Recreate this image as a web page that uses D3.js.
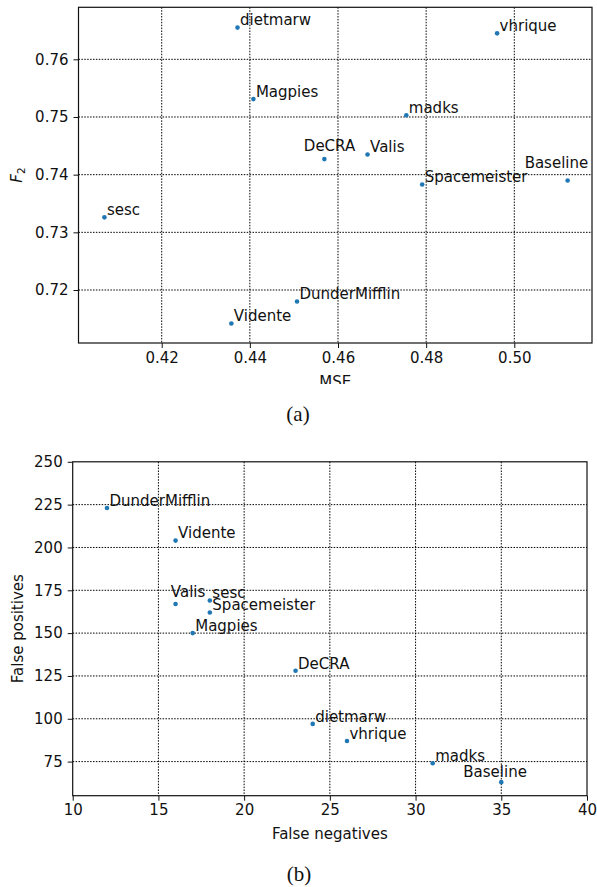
<!DOCTYPE html>
<html><head><meta charset="utf-8">
<script src="https://cdn.jsdelivr.net/npm/d3@7"></script>
<style>body{margin:0;background:#fff} svg{display:block}</style>
</head><body><svg id="c" width="597" height="887"></svg>
<script>
// ---- Panel (a) data ----
const teamsA = ["dietmarw","Magpies","vhrique","madks","DeCRA","Valis","Spacemeister","Baseline","sesc","Vidente","DunderMifflin"];
const mseA   = [0.4372,0.4408,0.4961,0.4755,0.4569,0.4667,0.4791,0.5121,0.4070,0.4358,0.4507];
const f2A    = [0.7655,0.7531,0.7645,0.7503,0.7427,0.7435,0.7383,0.7390,0.7326,0.7142,0.7180];
const xTicksA = [0.42,0.44,0.46,0.48,0.50];
const yTicksA = [0.72,0.73,0.74,0.75,0.76];

// ---- Panel (b) data ----
const teamsB = ["DunderMifflin","Vidente","Valis","sesc","Spacemeister","Magpies","DeCRA","dietmarw","vhrique","madks","Baseline"];
const fnB    = [12,16,16,18,18,17,23,24,26,31,35];
const fpB    = [223,204,167,169,162,150,128,97,87,74,63];
const xTicksB = [10,15,20,25,30,35,40];
const yTicksB = [75,100,125,150,175,200,225,250];

// label placement (pixel offsets from the point), default otherwise
const labelOffA = {DeCRA:[-20.5,-8], Baseline:[-43,-12]};
const labelOffB = {Valis:[-4.7,-7], Baseline:[-38,-5.6]};
const defOff = [2.5,-2.3];

const svg = d3.select("#c");
const FONT = "DejaVu Sans, sans-serif";
const INK = "#111";

svg.append("defs").append("clipPath").attr("id","clipA")
  .append("rect").attr("x",0).attr("y",0).attr("width",597).attr("height",384);

function panel(o){
  const x = d3.scaleLinear().domain(o.xDom).range([o.left,o.right]);
  const y = d3.scaleLinear().domain(o.yDom).range([o.bottom,o.top]);
  const g = svg.append("g");
  // grid
  g.append("g").selectAll("line").data(o.xTicks.filter(v=>v>o.xDom[0]&&v<o.xDom[1])).join("line")
    .attr("x1",d=>x(d)).attr("x2",d=>x(d)).attr("y1",o.top).attr("y2",o.bottom)
    .attr("stroke","#000").attr("stroke-width",1).attr("stroke-dasharray","1.5,1.4");
  g.append("g").selectAll("line").data(o.yTicks.filter(v=>v>o.yDom[0]&&v<o.yDom[1])).join("line")
    .attr("y1",d=>y(d)).attr("y2",d=>y(d)).attr("x1",o.left).attr("x2",o.right)
    .attr("stroke","#000").attr("stroke-width",1).attr("stroke-dasharray","1.5,1.4");
  // axes
  const xa = g.append("g").attr("transform",`translate(0,${o.bottom})`)
    .call(d3.axisBottom(x).tickValues(o.xTicks).tickFormat(o.xFmt).tickSize(5).tickPadding(4));
  const ya = g.append("g").attr("transform",`translate(${o.left},0)`)
    .call(d3.axisLeft(y).tickValues(o.yTicks).tickFormat(o.yFmt).tickSize(5).tickPadding(5));
  [xa,ya].forEach(a=>{
    a.select(".domain").remove();
    a.selectAll("line").attr("stroke",INK).attr("stroke-width",1);
    a.selectAll("text").attr("font-family",FONT).attr("font-size",15).attr("fill",INK);
  });
  xa.selectAll("text").attr("dy","0.71em");
  // frame
  g.append("rect").attr("x",o.left).attr("y",o.top).attr("width",o.right-o.left).attr("height",o.bottom-o.top)
    .attr("fill","none").attr("stroke",INK).attr("stroke-width",1.2);
  // points
  const data = o.names.map((n,i)=>({n, vx:o.xs[i], vy:o.ys[i]}));
  g.append("g").selectAll("circle").data(data).join("circle")
    .attr("cx",d=>x(d.vx)).attr("cy",d=>y(d.vy)).attr("r",2.3).attr("fill","#1f77b4");
  g.append("g").selectAll("text").data(data).join("text")
    .attr("x",d=>x(d.vx)+(o.off[d.n]||defOff)[0])
    .attr("y",d=>y(d.vy)+(o.off[d.n]||defOff)[1])
    .attr("font-family",FONT).attr("font-size",15).attr("fill",INK).text(d=>d.n);
  return {x,y,g};
}

// Panel (a)
const A = panel({left:78.5,right:592,top:7.3,bottom:343,
  xDom:[0.40112,0.51763], yDom:[0.71081,0.76902],
  xTicks:xTicksA, yTicks:yTicksA, xFmt:d3.format(".2f"), yFmt:d3.format(".2f"),
  names:teamsA, xs:mseA, ys:f2A, off:labelOffA});
A.g.append("text").attr("clip-path","url(#clipA)")
  .attr("x",(78.5+592)/2).attr("y",387).attr("text-anchor","middle")
  .attr("font-family",FONT).attr("font-size",15).attr("fill",INK).text("MSE");
const fl = A.g.append("text").attr("transform",`translate(22,175) rotate(-90)`).attr("text-anchor","middle")
  .attr("font-family",FONT).attr("font-size",15).attr("fill",INK);
fl.append("tspan").attr("font-style","italic").text("F");
fl.append("tspan").attr("font-size",10.5).attr("dy",3).text("2");
svg.append("text").attr("x",298).attr("y",421).attr("text-anchor","middle")
  .attr("font-family","Liberation Serif, serif").attr("font-size",21).attr("fill",INK).text("(a)");

// Panel (b)
const B = panel({left:72.7,right:587,top:461.8,bottom:795.7,
  xDom:[10,40], yDom:[55.1,250],
  xTicks:xTicksB, yTicks:yTicksB, xFmt:d3.format("d"), yFmt:d3.format("d"),
  names:teamsB, xs:fnB, ys:fpB, off:labelOffB});
B.g.append("text").attr("x",(72.7+587)/2).attr("y",839).attr("text-anchor","middle")
  .attr("font-family",FONT).attr("font-size",15).attr("fill",INK).text("False negatives");
B.g.append("text").attr("transform",`translate(23,628.7) rotate(-90)`).attr("text-anchor","middle")
  .attr("font-family",FONT).attr("font-size",15).attr("fill",INK).text("False positives");
svg.append("text").attr("x",299).attr("y",881).attr("text-anchor","middle")
  .attr("font-family","Liberation Serif, serif").attr("font-size",21).attr("fill",INK).text("(b)");
</script>
</body></html>
